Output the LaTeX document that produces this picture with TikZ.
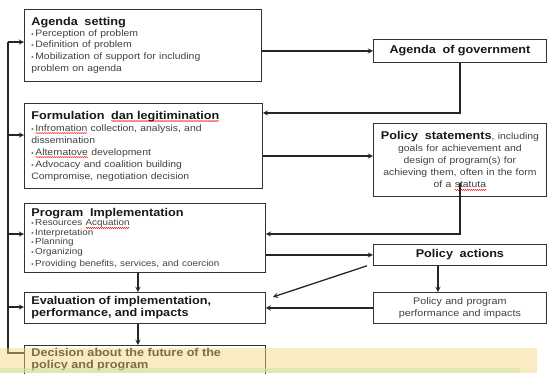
\documentclass[tikz,border=0pt]{standalone}
\usepackage{fontspec}
\setmainfont{Liberation Sans}[FakeStretch=1.12,WordSpace=1.5]
\usetikzlibrary{decorations.pathmorphing}

\newcommand\ttl{\fontsize{11.3}{13}\selectfont\bfseries\color{black!90}}
\newcommand\bdy{\fontsize{9.3}{11.5}\selectfont\mdseries\color{black!75}}
\newcommand\itm{{\fontsize{6}{6}\selectfont\textbullet}\,}
% red wavy underline of the spell checker
\newcommand\typo[1]{\setbox0\hbox{#1}\rlap{\smash{\tikz[baseline=0pt]
	\draw[red,line width=0.4pt,decorate,decoration={snake,amplitude=0.6pt,segment length=2pt}]
	(0pt,-2pt) -- (\wd0,-2pt);}}#1}

\begin{document}
\begin{tikzpicture}[x=1pt,y=-1pt,
	box/.style={draw=black!80,line width=0.8pt,anchor=north west,inner xsep=7pt,inner ysep=2pt},
	arr/.style={-stealth,line width=1.3pt,black!85}]

\useasboundingbox (0,0) rectangle (548,373);
\clip (0,0) rectangle (548,373);

% left column
\node[box,text width=223pt,minimum height=72pt,align=left] (set) at (24,9)
	{\ttl Agenda\ \ setting\\[-1pt]
	\bdy \itm Perception of problem\\ \itm Definition of problem\\
	\itm Mobilization of support for including\\ problem on agenda};
\node[box,text width=224pt,minimum height=85pt,align=left] (form) at (24,103)
	{\ttl Formulation\ \ \typo{dan legitimination}\\
	\bdy\baselineskip=12pt \itm\typo{Infromation} collection, analysis, and\\ dissemination\\
	\itm\typo{Alternatove} development\\ \itm Advocacy and coalition building\\
	Compromise, negotiation decision};
\node[box,text width=227pt,minimum height=69pt,align=left] (prog) at (24,203)
	{\ttl Program\ \ Implementation\\[0.5pt]
	\bdy\fontsize{8.8}{9.4}\selectfont \itm Resources \typo{Acquation}\\ \itm Interpretation\\
	\itm Planning\\ \itm Organizing\\ \itm Providing benefits, services, and coercion};
\node[box,text width=227pt,minimum height=31pt,align=left] (eval) at (24,292)
	{\ttl Evaluation of implementation,\\ performance, and impacts};
\node[box,text width=227pt,inner ysep=3pt,align=left] (dec) at (24,345)
	{\ttl Decision about the future of the\\ policy and program};

% right column
\node[box,text width=159pt,minimum height=23pt,align=center] (gov) at (373,39)
	{\ttl Agenda\ \ of government};
\node[box,text width=173pt,inner xsep=0pt,minimum height=73pt,align=center] (ps) at (373,123)
	{{\ttl Policy\ \ statements}{\bdy , including}\\
	\bdy\baselineskip=12pt goals for achievement and\\ design of program(s) for\\
	achieving them, often in the form\\ of a \typo{statuta}};
\node[box,text width=159pt,minimum height=21pt,align=center] (act) at (373,244)
	{\ttl Policy\ \ actions};
\node[box,text width=159pt,minimum height=31pt,align=center] (ppi) at (373,292)
	{\bdy\fontsize{9.6}{12}\selectfont Policy and program\\ performance and impacts};

% feedback loop on the left
\draw[line width=1.3pt,black!85] ([yshift=-8pt]dec.north west) -| (8,42);
\foreach \nm/\yy in {set/42,form/135,prog/234,eval/307}
	\draw[arr] (8,\yy) -- (\nm.west |- 8,\yy);

\draw[arr] (set.east |- gov.west) -- (gov.west);
\draw[arr] (gov.south) |- (form.east |- 8,113);
\draw[arr] (form.east |- 8,156) -- (ps.west |- 8,156);
\draw[arr] ([yshift=14pt]ps.south) |- (prog.east |- 8,234);
\draw[arr] (prog.east |- act.west) -- (act.west);
\draw[arr] ([xshift=-22pt]act.south) -- ([xshift=-22pt]ppi.north);
\draw[arr] ([xshift=-6pt]act.south west) -- ([xshift=7pt,yshift=-5pt]eval.north east);
\draw[arr] (ppi.west) -- (eval.east |- ppi.west);
\draw[arr] ([xshift=-7pt]prog.south) -- ([xshift=-7pt]eval.north);
\draw[arr] ([xshift=-7pt]eval.south) -- ([xshift=-7pt]dec.north);

% pale band across the bottom
\fill[fill={rgb,255:red,245;green,212;blue,120},fill opacity=0.45] (0,348) rectangle (537,373);
\fill[fill={rgb,255:red,205;green,225;blue,160},fill opacity=0.5] (0,368) rectangle (520,373);

\end{tikzpicture}
\end{document}
